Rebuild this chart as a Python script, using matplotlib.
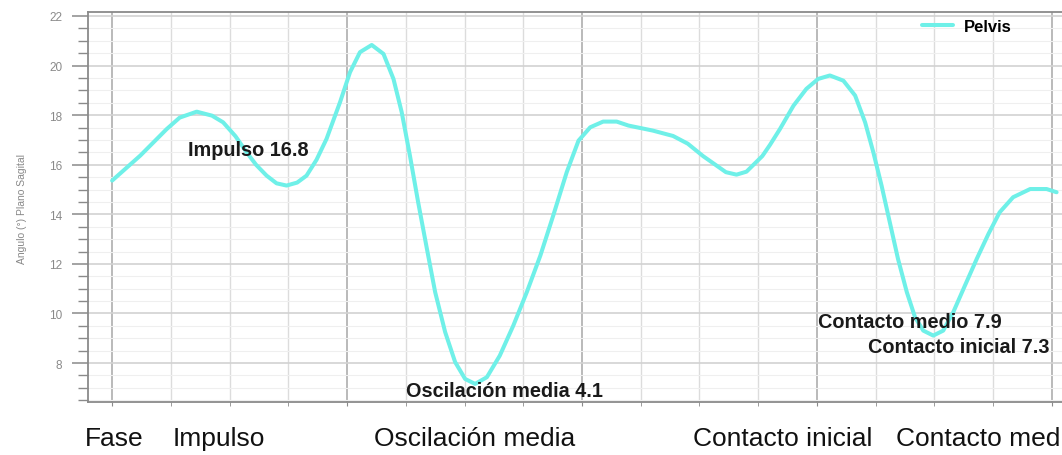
import matplotlib
matplotlib.use("Agg")
import matplotlib.pyplot as plt
from matplotlib.ticker import MultipleLocator
import matplotlib.transforms as mtransforms

plt.rcParams['font.family'] = ['Liberation Sans', 'DejaVu Sans']

# curve (x in gait-cycle grid units, y in degrees)
pelvis_x = [0.0, 0.48, 0.93, 1.15, 1.44, 1.7, 1.89, 2.1, 2.29, 2.45, 2.63, 2.8,
            2.97, 3.15, 3.31, 3.48, 3.65, 3.88, 4.05, 4.22, 4.42, 4.62, 4.79, 4.93,
            5.07, 5.21, 5.36, 5.5, 5.67, 5.84, 6.01, 6.18, 6.38, 6.6, 6.83, 7.06,
            7.29, 7.51, 7.74, 7.94, 8.14, 8.36, 8.59, 8.79, 9.2, 9.55, 9.8, 10.06,
            10.3, 10.45, 10.63, 10.8, 11.07, 11.2, 11.37, 11.6, 11.82, 12.02, 12.22, 12.45,
            12.65, 12.82, 12.96, 13.1, 13.24, 13.38, 13.53, 13.67, 13.81, 13.98, 14.15, 14.32,
            14.52, 14.72, 14.92, 15.11, 15.34, 15.63, 15.91, 16.08]
pelvis_y = [15.36, 16.37, 17.44, 17.9, 18.14, 17.98, 17.71, 17.15, 16.5, 16.0, 15.56, 15.25,
            15.16, 15.28, 15.56, 16.2, 17.04, 18.52, 19.73, 20.54, 20.83, 20.47, 19.46, 18.12,
            16.37, 14.49, 12.6, 10.86, 9.25, 8.04, 7.36, 7.16, 7.43, 8.3, 9.51, 10.86,
            12.33, 13.95, 15.7, 16.97, 17.51, 17.74, 17.74, 17.58, 17.38, 17.16, 16.85, 16.35,
            15.95, 15.7, 15.6, 15.72, 16.35, 16.8, 17.44, 18.38, 19.06, 19.46, 19.6, 19.39,
            18.79, 17.71, 16.5, 15.16, 13.68, 12.2, 10.86, 9.85, 9.31, 9.11, 9.31, 10.05,
            11.13, 12.2, 13.21, 14.08, 14.69, 15.02, 15.02, 14.89]

annot_text = ["Impulso 16.8", "Oscilación media 4.1", "Contacto medio 7.9", "Contacto inicial 7.3"]
annot_x = [1.29, 5.0, 12.02, 12.87]
annot_y = [16.40, 6.68, 9.45, 8.46]

# the last label runs off the right edge in the original too
phase_labels = ["Fase", "Impulso", "Oscilación media", "Contacto inicial", "Contacto medio"]
phase_x = [0.04, 1.81, 6.17, 11.41, 13.34]
phase_ha = ["center", "center", "center", "center", "left"]

fig = plt.figure(figsize=(10.62, 4.56), dpi=100)
ax = fig.add_axes([0.0829, 0.1162, 0.9275, 0.8553])

ax.plot(pelvis_x, pelvis_y, color="#6ff0e8", lw=2.9, label="Pelvis",
        solid_capstyle="round", solid_joinstyle="round", zorder=3)

ax.set_xlim(-0.41, 16.36)
ax.set_ylim(6.43, 22.16)

ax.xaxis.set_major_locator(MultipleLocator(4))
ax.xaxis.set_minor_locator(MultipleLocator(1))
ax.yaxis.set_major_locator(MultipleLocator(2))
ax.yaxis.set_minor_locator(MultipleLocator(0.5))

ax.grid(which="major", axis="x", color="#b4b4b4", lw=1.3)
ax.grid(which="minor", axis="x", color="#dcdcdc", lw=1.0)
ax.grid(which="major", axis="y", color="#d2d2d2", lw=1.2)
ax.grid(which="minor", axis="y", color="#efefef", lw=0.8)
ax.set_axisbelow(True)

for s in ["left", "bottom", "top"]:
    ax.spines[s].set_color("#8a8a8a")
    ax.spines[s].set_linewidth(1.3)
ax.spines["right"].set_visible(False)

ax.tick_params(axis="x", which="both", length=3, color="#8a8a8a", labelbottom=False)
ax.tick_params(axis="y", which="major", length=11.5, width=1.1, color="#8a8a8a",
               labelsize=8.5, labelcolor="#8a8a8a", pad=7)
ax.tick_params(axis="y", which="minor", length=7, width=1.0, color="#8a8a8a")

ax.set_ylabel("Angulo (°) Plano Sagital", fontsize=7.5, color="#888888")
ax.yaxis.set_label_coords(-0.062, 0.497)

for t, x, y in zip(annot_text, annot_x, annot_y):
    ax.text(x, y, t, fontsize=14.3, fontweight="bold", color="#1a1a1a",
            ha="left", va="baseline", zorder=4)

trans = mtransforms.blended_transform_factory(ax.transData, fig.transFigure)
for t, x, ha in zip(phase_labels, phase_x, phase_ha):
    ax.text(x, 0.022, t, transform=trans, fontsize=19, color="#111111",
            ha=ha, va="baseline", clip_on=False)

leg = ax.legend(loc="upper left", bbox_to_anchor=(0.8464, 0.982), frameon=False,
                prop={"weight": "bold", "size": 12}, handlelength=1.9,
                handletextpad=0.6, borderaxespad=0, borderpad=0)

fig.savefig("out.png", dpi=100)
